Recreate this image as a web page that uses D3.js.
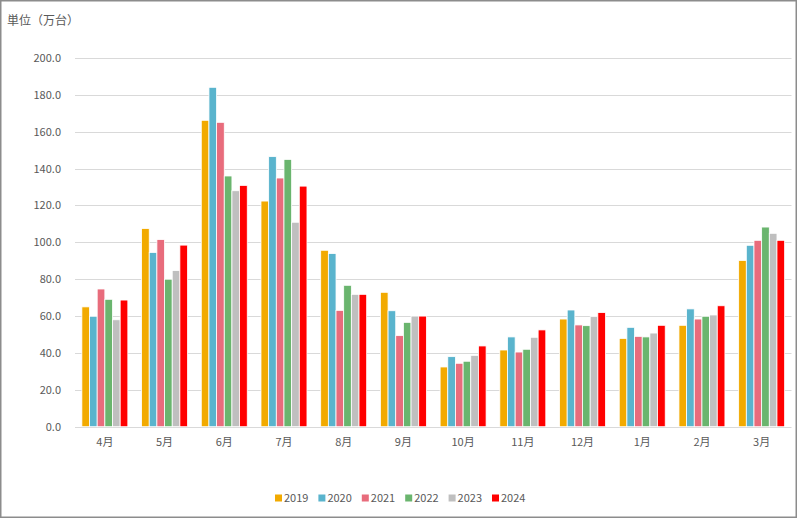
<!DOCTYPE html>
<html>
  <head>
    <meta charset="utf-8">
    <title>月別 台数</title>
    <script src="https://d3js.org/d3.v7.min.js"></script>
    <style>
      body { margin: 0; background: #fff; }
      text { font-family: "Noto Sans CJK JP", "Noto Sans", sans-serif; fill: #595959; }
    </style>
  </head>
  <body>
  <script type="text/javascript">
    var months = ['4月','5月','6月','7月','8月','9月','10月','11月','12月','1月','2月','3月'];
    var years = ['2019','2020','2021','2022','2023','2024'];
    var colors = ['#F2AA00','#5AB4CD','#E86C7C','#6AB56E','#BFBFBF','#FF0000'];
    var yTicks = [0,20,40,60,80,100,120,140,160,180,200];

    // 万台, one array per year, in month order
    var v2019 = [65.0,107.5,166.2,122.4,95.7,72.9,32.4,41.6,58.4,47.9,55.0,90.2];
    var v2020 = [59.9,94.5,184.1,146.5,93.9,62.9,38.0,48.7,63.3,53.9,63.9,98.4];
    var v2021 = [74.7,101.5,165.1,134.9,63.1,49.4,34.4,40.5,55.2,49.0,58.4,101.1];
    var v2022 = [69.1,80.0,136.0,145.0,76.7,56.6,35.5,42.0,54.8,48.7,59.9,108.3];
    var v2023 = [58.0,84.7,128.0,110.9,71.8,60.0,38.7,48.5,59.7,50.8,60.6,104.9];
    var v2024 = [68.7,98.5,130.9,130.5,71.8,60.0,43.8,52.5,61.9,55.0,65.6,101.1];
    var series = [v2019,v2020,v2021,v2022,v2023,v2024];

    var W = 797, H = 518;
    var svg = d3.select('body')
                .append('svg')
                .attr('width', W)
                .attr('height', H);

    svg.append('rect')
       .attr('x', 0.75).attr('y', 0.75)
       .attr('width', W - 1.5).attr('height', H - 1.5)
       .attr('fill', '#fff')
       .attr('stroke', '#8c8c8c')
       .attr('stroke-width', 1.5);

    var x = d3.scaleBand()
              .domain(months)
              .range([75, 791.5])
              .paddingInner(0.23)
              .paddingOuter(0.115);
    var xs = d3.scaleBand()
               .domain(years)
               .range([0, x.bandwidth()]);
    var y = d3.scaleLinear()
              .domain([0, 200])
              .range([426.7, 58]);

    /* grid + y labels */
    svg.append('g')
       .selectAll('line')
       .data(yTicks)
       .enter()
       .append('line')
       .attr('x1', 75).attr('x2', 791.5)
       .attr('y1', function(d){ return Math.round(y(d)) + 0.5 })
       .attr('y2', function(d){ return Math.round(y(d)) + 0.5 })
       .attr('stroke', '#d9d9d9')
       .attr('stroke-width', 1);

    svg.append('g')
       .selectAll('text')
       .data(yTicks)
       .enter()
       .append('text')
       .attr('x', 61)
       .attr('y', function(d){ return y(d) })
       .attr('dy', '0.36em')
       .attr('text-anchor', 'end')
       .style('font-size', '11px')
       .text(function(d){ return d3.format('.1f')(d) });

    /* bars */
    var groups = svg.selectAll('g.yr')
       .data(series)
       .enter()
       .append('g')
       .attr('class', 'yr')
       .attr('fill', function(d, i){ return colors[i] });

    groups.each(function(vals, i){
      d3.select(this).selectAll('rect')
        .data(vals)
        .enter()
        .append('rect')
        .attr('x', function(d, j){ return x(months[j]) + xs(years[i]) })
        .attr('width', xs.bandwidth())
        .attr('y', function(d){ return y(d) })
        .attr('height', function(d){ return y(0) - y(d) })
        .attr('stroke', '#fff')
        .attr('stroke-width', 0.8);
    });

    /* x labels */
    svg.append('g')
       .selectAll('text')
       .data(months)
       .enter()
       .append('text')
       .attr('x', function(d){ return x(d) + x.bandwidth() / 2 })
       .attr('y', 442)
       .attr('dy', '0.36em')
       .attr('text-anchor', 'middle')
       .style('font-size', '11px')
       .text(function(d){ return d });

    /* unit label */
    svg.append('text')
       .attr('x', 7)
       .attr('y', 21)
       .attr('dy', '0.36em')
       .style('font-size', '12px')
       .text('単位（万台）');

    /* legend */
    var leg = svg.append('g')
       .selectAll('g')
       .data(years)
       .enter()
       .append('g')
       .attr('transform', function(d, i){ return 'translate(' + (275 + i * 43.4) + ',498)' });
    leg.append('rect')
       .attr('x', 0).attr('y', -3.5)
       .attr('width', 7).attr('height', 7)
       .attr('fill', function(d, i){ return colors[i] });
    leg.append('text')
       .attr('x', 9)
       .attr('y', 0)
       .attr('dy', '0.36em')
       .style('font-size', '11px')
       .text(function(d){ return d });
  </script>
  </body>
</html>
